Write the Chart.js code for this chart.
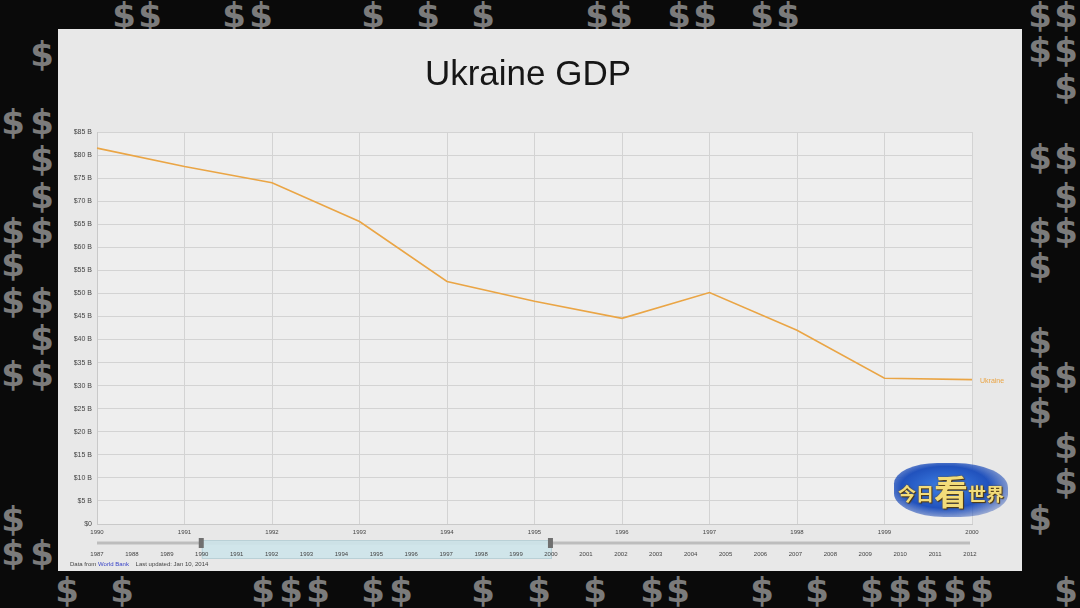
<!DOCTYPE html>
<html>
<head>
<meta charset="utf-8">
<script src="https://cdn.jsdelivr.net/npm/chart.js@4.4.1/dist/chart.umd.min.js"></script>
<style>
  html, body { margin: 0; padding: 0; }
  body { width: 1080px; height: 608px; background: #0a0a0a; position: relative; overflow: hidden; font-family: "Liberation Sans", Arial, sans-serif; }
  .dollar { position: absolute; transform: translate(-50%, -50%); color: #7b7b7b; font: bold 34px "DejaVu Sans", sans-serif; line-height: 1; }
  #panel { position: absolute; left: 58px; top: 29px; width: 964px; height: 542px; background: #e8e8e8; }
  #main { position: absolute; left: 0; top: 0; }
  #timeline { position: absolute; left: 0; top: 506px; }
  #source { position: absolute; left: 12px; top: 532px; font-size: 6px; color: #444; white-space: pre; }
  #source span { color: #3a45c8; }
  #logo { position: absolute; left: 830px; top: 432px; width: 126px; height: 58px; }
  #logo .map { position: absolute; left: 6px; top: 2px; width: 114px; height: 54px; border-radius: 38% 46% 42% 44%;
    background: radial-gradient(ellipse at 45% 45%, #3f82e6 0%, #2152bd 50%, rgba(40,80,180,0.45) 75%, rgba(232,232,232,0) 100%); }
  #logo .txt { position: absolute; left: 0; top: 5px; width: 126px; text-align: center; white-space: nowrap;
    font-family: "Noto Sans CJK SC", sans-serif; font-weight: bold; color: #f3dc7a; font-size: 18px;
    text-shadow: 0 0 2px #6b4a10, 1px 1px 1px #4a3208; }
  #logo .big { font-size: 34px; vertical-align: -4px; }
</style>
</head>
<body>
<div id="panel">
  <canvas id="main" width="964" height="520"></canvas>
  <canvas id="timeline" width="964" height="28"></canvas>
  <div id="source">Data from <span>World Bank</span>    Last updated: Jan 10, 2014</div>
  <div id="logo"><div class="map"></div><div class="txt">今日<span class="big">看</span>世界</div></div>
</div>
<script>
// chart data
const years = ['1990', '1991', '1992', '1993', '1994', '1995', '1996', '1997', '1998', '1999', '2000'];
const gdpBillions = [81.5, 77.5, 74.0, 65.6, 52.6, 48.3, 44.6, 50.2, 42.0, 31.6, 31.3];
const seriesName = 'Ukraine';
const yMax = 85;
const yStep = 5;

// timeline slider under the chart
const timelineYears = ['1987', '1988', '1989', '1990', '1991', '1992', '1993', '1994', '1995', '1996', '1997', '1998', '1999',
  '2000', '2001', '2002', '2003', '2004', '2005', '2006', '2007', '2008', '2009', '2010', '2011', '2012'];
const rangeStart = '1990';
const rangeEnd = '2000';

// background decoration
const dollarSpots = [
  [124, 15], [150, 15], [234, 15], [261, 15], [373, 15], [428, 15], [483, 15], [597, 15], [621, 15], [679, 15], [705, 15], [762, 15], [788, 15], [1040, 15], [1066, 15],
  [42, 54], [13, 122], [42, 122], [42, 159], [42, 196], [13, 231], [42, 231], [13, 264], [13, 301], [42, 301], [42, 338], [13, 374], [42, 374], [13, 519], [13, 553], [42, 553],
  [1040, 50], [1066, 50], [1066, 87], [1040, 157], [1066, 157], [1066, 196], [1040, 231], [1066, 231], [1040, 266], [1040, 341], [1040, 376], [1066, 376], [1040, 411], [1066, 446], [1066, 482], [1040, 518],
  [67, 590], [122, 590], [263, 590], [291, 590], [318, 590], [373, 590], [401, 590], [483, 590], [539, 590], [595, 590], [652, 590], [678, 590], [762, 590], [817, 590],
  [872, 590], [900, 590], [927, 590], [955, 590], [982, 590], [1066, 590]
];

for (const [x, y] of dollarSpots) {
  const d = document.createElement('div');
  d.className = 'dollar';
  d.textContent = '$';
  d.style.left = x + 'px';
  d.style.top = y + 'px';
  document.body.insertBefore(d, document.body.firstChild);
}

const lineColor = '#eaa545';

const plotBackground = {
  id: 'plotBackground',
  beforeDraw(chart) {
    const { ctx, chartArea } = chart;
    ctx.save();
    ctx.fillStyle = '#eeeeee';
    ctx.fillRect(chartArea.left, chartArea.top, chartArea.right - chartArea.left, chartArea.bottom - chartArea.top);
    ctx.restore();
  }
};

const endLabel = {
  id: 'endLabel',
  afterDatasetsDraw(chart) {
    const meta = chart.getDatasetMeta(0);
    const last = meta.data[meta.data.length - 1];
    const ctx = chart.ctx;
    ctx.save();
    ctx.font = '7px "Liberation Sans", Arial, sans-serif';
    ctx.fillStyle = lineColor;
    ctx.textBaseline = 'middle';
    ctx.fillText(seriesName, last.x + 8, last.y + 1);
    ctx.restore();
  }
};

new Chart(document.getElementById('main'), {
  type: 'line',
  data: {
    labels: years,
    datasets: [{
      label: seriesName,
      data: gdpBillions,
      borderColor: lineColor,
      borderWidth: 1.6,
      pointRadius: 0,
      tension: 0,
      fill: false
    }]
  },
  options: {
    responsive: false,
    animation: false,
    layout: { padding: { left: 0, right: 24, top: 0, bottom: 0 } },
    plugins: {
      legend: { display: false },
      tooltip: { enabled: false },
      title: {
        display: true,
        text: 'Ukraine GDP',
        color: '#161616',
        font: { family: '"Liberation Sans", Arial, sans-serif', size: 35, weight: 'normal' },
        padding: { top: 25, bottom: 36 }
      }
    },
    scales: {
      x: {
        grid: { color: '#d3d3d3', drawTicks: false },
        border: { color: '#c9c9c9' },
        ticks: { color: '#444', font: { size: 6 }, padding: 5, maxRotation: 0, autoSkip: false },
        afterFit(scale) { scale.height = 25; }
      },
      y: {
        min: 0,
        max: yMax,
        grid: { color: '#d3d3d3', drawTicks: false },
        border: { color: '#c9c9c9' },
        ticks: {
          stepSize: yStep,
          color: '#444',
          font: { size: 7 },
          padding: 5,
          callback: v => v === 0 ? '$0' : '$' + v + ' B'
        },
        afterFit(scale) { scale.width = 39; }
      },
      // empty right-hand axis keeps room for the series label
      yRight: {
        position: 'right',
        min: 0,
        max: yMax,
        grid: { display: false },
        border: { display: false },
        ticks: { display: false },
        afterFit(scale) { scale.width = 26; }
      }
    }
  },
  plugins: [plotBackground, endLabel]
});

const sliderTrack = {
  id: 'sliderTrack',
  beforeDraw(chart) {
    const { ctx, chartArea } = chart;
    const x = chart.scales.x;
    const mid = (chartArea.top + chartArea.bottom) / 2;
    const a = x.getPixelForValue(timelineYears.indexOf(rangeStart));
    const b = x.getPixelForValue(timelineYears.indexOf(rangeEnd));
    ctx.save();
    ctx.strokeStyle = '#bdbdbd';
    ctx.lineWidth = 3;
    ctx.beginPath();
    ctx.moveTo(x.getPixelForValue(0), mid);
    ctx.lineTo(x.getPixelForValue(timelineYears.length - 1), mid);
    ctx.stroke();
    ctx.fillStyle = 'rgba(205, 228, 234, 0.9)';
    ctx.strokeStyle = '#b9d0d6';
    ctx.lineWidth = 1;
    ctx.fillRect(a, mid - 3, b - a, 18);
    ctx.strokeRect(a + 0.5, mid - 2.5, b - a, 18);
    ctx.fillStyle = '#707070';
    for (const px of [a, b]) {
      ctx.fillRect(px - 3, mid - 5, 5, 10);
    }
    ctx.restore();
  }
};

new Chart(document.getElementById('timeline'), {
  type: 'line',
  data: { labels: timelineYears, datasets: [] },
  options: {
    responsive: false,
    animation: false,
    layout: { padding: { left: 39, right: 52, top: 4, bottom: 0 } },
    plugins: { legend: { display: false }, tooltip: { enabled: false } },
    scales: {
      x: {
        grid: { display: false, drawTicks: false },
        border: { display: false },
        ticks: { color: '#444', font: { size: 6 }, padding: 4, maxRotation: 0, autoSkip: false },
        afterFit(scale) { scale.height = 16; }
      },
      y: { display: false }
    }
  },
  plugins: [sliderTrack]
});
</script>
</body>
</html>
